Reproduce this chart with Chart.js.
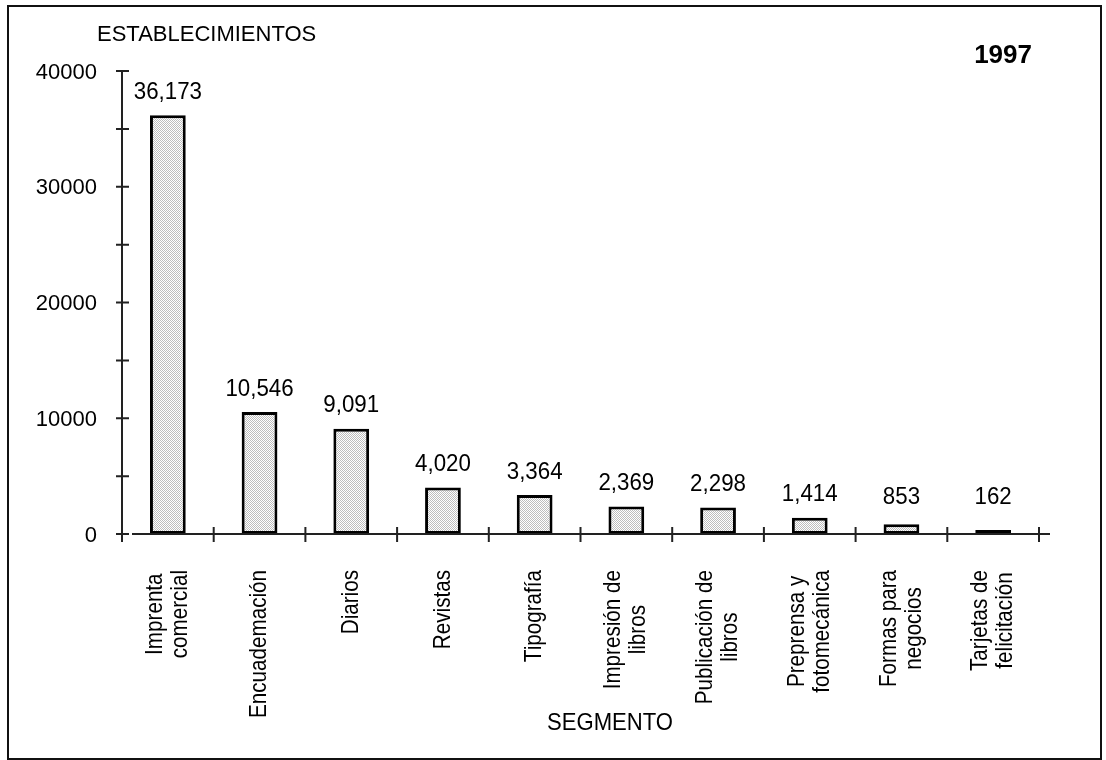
<!DOCTYPE html>
<html>
<head>
<meta charset="utf-8">
<script src="https://cdn.jsdelivr.net/npm/chart.js@4"></script>
<style>
  body { margin: 0; background: #fff; }
  canvas { display: block; }
</style>
</head>
<body>
<canvas id="chart" width="1106" height="760"></canvas>
<script>
const categories = [
  ['Imprenta', 'comercial'],
  ['Encuademación'],
  ['Diarios'],
  ['Revistas'],
  ['Tipografía'],
  ['Impresión de', 'libros'],
  ['Publicación de', 'libros'],
  ['Preprensa y', 'fotomecánica'],
  ['Formas para', 'negocios'],
  ['Tarjetas de', 'felicitación']
];
const establecimientos = [36173, 10546, 9091, 4020, 3364, 2369, 2298, 1414, 853, 162];
const valueLabels = ['36,173', '10,546', '9,091', '4,020', '3,364', '2,369', '2,298', '1,414', '853', '162'];
const yTicks = [0, 10000, 20000, 30000, 40000];
const yTickLabels = ['0', '10000', '20000', '30000', '40000'];
const yMinorTicks = [5000, 15000, 25000, 35000];
const yTitle = 'ESTABLECIMIENTOS';
const xTitle = 'SEGMENTO';
const yearLabel = '1997';

const FONT = "'Liberation Sans', Arial, sans-serif";

function drawText(ctx, str, x, y, font, align, sx, rot) {
  ctx.save();
  ctx.translate(x, y);
  if (rot) ctx.rotate(rot);
  ctx.scale(sx, 1);
  ctx.font = font;
  ctx.textAlign = align;
  ctx.textBaseline = 'middle';
  ctx.fillStyle = '#000';
  ctx.fillText(str, 0, 0);
  ctx.restore();
}

const canvas = document.getElementById('chart');
const ctx = canvas.getContext('2d');

// light dotted fill like the original
const tile = document.createElement('canvas');
tile.width = 2;
tile.height = 2;
const tctx = tile.getContext('2d');
tctx.fillStyle = '#ffffff';
tctx.fillRect(0, 0, 2, 2);
tctx.fillStyle = '#bdbdbd';
tctx.fillRect(0, 0, 1, 1);
tctx.fillRect(1, 1, 1, 1);
const dotted = ctx.createPattern(tile, 'repeat');

const frame = {
  id: 'frame',
  beforeDraw(chart) {
    const c = chart.ctx;
    c.save();
    c.fillStyle = '#fff';
    c.fillRect(0, 0, chart.width, chart.height);
    c.strokeStyle = '#111';
    c.lineWidth = 2;
    c.strokeRect(8, 6, 1093, 753);
    c.restore();
  }
};

const axes = {
  id: 'axes',
  afterDatasetsDraw(chart) {
    const c = chart.ctx;
    const x = chart.scales.x;
    const y = chart.scales.y;
    const area = chart.chartArea;
    const x0 = area.left;
    const y0 = y.getPixelForValue(0);
    const step = x.getPixelForValue(1) - x.getPixelForValue(0);

    c.save();
    c.strokeStyle = '#222';
    c.lineWidth = 2;
    c.beginPath();
    // y axis
    c.moveTo(x0, y.getPixelForValue(40000));
    c.lineTo(x0, y0 + 8);
    // x axis
    c.moveTo(x0 + 10, y0);
    c.lineTo(area.right + 11, y0);
    // y ticks, crossing the axis
    yTicks.concat(yMinorTicks).forEach((v) => {
      const py = y.getPixelForValue(v);
      c.moveTo(x0 - 6, py);
      c.lineTo(x0 + 7, py);
    });
    // x ticks at category boundaries
    for (let i = 1; i <= categories.length; i++) {
      const px = x.getPixelForValue(i - 1) + step / 2;
      c.moveTo(px, y0 - 7);
      c.lineTo(px, y0 + 8);
    }
    c.stroke();
    c.restore();

    // y tick labels
    yTicks.forEach((v, i) => {
      drawText(c, yTickLabels[i], x0 - 25, y.getPixelForValue(v) + 1.5, '22px ' + FONT, 'right', 1);
    });

    // category labels, rotated
    c.save();
    c.font = '24px ' + FONT;
    const sx = 0.86;
    categories.forEach((lines, i) => {
      const maxW = Math.max(...lines.map((l) => c.measureText(l).width)) * sx;
      const yc = 570 + maxW / 2;
      const cx = x.getPixelForValue(i);
      lines.forEach((l, j) => {
        const off = (j - (lines.length - 1) / 2) * 25;
        drawText(c, l, cx + off, yc, '24px ' + FONT, 'center', sx, -Math.PI / 2);
      });
    });
    c.restore();

    // value labels above bars
    const meta = chart.getDatasetMeta(0);
    meta.data.forEach((bar, i) => {
      const ly = Math.min(bar.y - 23, 497);
      drawText(c, valueLabels[i], bar.x, ly, '24px ' + FONT, 'center', 0.93);
    });

    drawText(c, yTitle, 97, 35, '22px ' + FONT, 'left', 1);
    drawText(c, xTitle, 610, 723, '24px ' + FONT, 'center', 0.92);
    drawText(c, yearLabel, 1032, 56, 'bold 26px ' + FONT, 'right', 1);
  }
};

new Chart(ctx, {
  type: 'bar',
  data: {
    labels: categories,
    datasets: [{
      data: establecimientos,
      backgroundColor: dotted,
      borderColor: '#000',
      borderWidth: 3,
      borderSkipped: false,
      minBarLength: 4,
      categoryPercentage: 1,
      barPercentage: 0.39
    }]
  },
  options: {
    responsive: false,
    animation: false,
    devicePixelRatio: 1,
    layout: {
      padding: { left: 122, right: 67, top: 71, bottom: 226 }
    },
    plugins: {
      legend: { display: false },
      tooltip: { enabled: false }
    },
    scales: {
      x: { display: false },
      y: { display: false, min: 0, max: 40000 }
    }
  },
  plugins: [frame, axes]
});
</script>
</body>
</html>
